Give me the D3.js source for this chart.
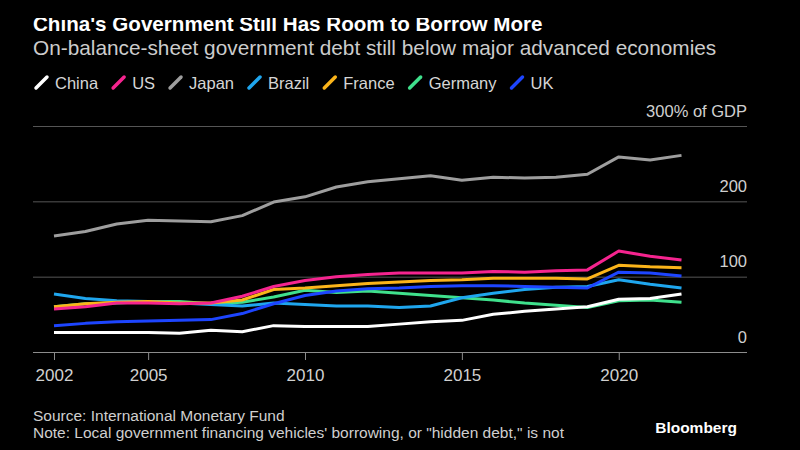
<!DOCTYPE html>
<html>
<head>
<meta charset="utf-8">
<script src="https://cdn.jsdelivr.net/npm/d3@7"></script>
<style>
  html, body { margin: 0; padding: 0; background: #000; }
  svg { display: block; font-family: "Liberation Sans", Arial, Helvetica, sans-serif; }
</style>
</head>
<body>
<svg id="chart" width="800" height="450"></svg>
<script>
// ---- Data ----
const years = [2002, 2003, 2004, 2005, 2006, 2007, 2008, 2009, 2010, 2011, 2012,
               2013, 2014, 2015, 2016, 2017, 2018, 2019, 2020, 2021, 2022];
const seriesNames = ["China", "US", "Japan", "Brazil", "France", "Germany", "UK"];
const seriesColors = ["#ffffff", "#f5248f", "#9e9e9e", "#1fa6ee", "#fbb41a", "#3fe08c", "#1d45ff"];
const chinaDebt   = [26, 26, 26, 26, 25, 29, 27, 35, 34, 34, 34, 37, 40, 42, 50, 54, 57, 60, 70, 71, 77];
const usDebt      = [57, 60, 65, 65, 64, 65, 74, 87, 95, 100, 103, 105, 105, 105, 107, 106, 108, 109, 134, 127, 122];
const japanDebt   = [154, 160, 170, 175, 174, 173, 181, 199, 206, 219, 226, 230, 234, 228, 232, 231, 232, 236, 259, 255, 261];
const brazilDebt  = [77, 71, 68, 67, 65, 63, 61, 65, 63, 61, 61, 59, 61, 72, 78, 83, 86, 87, 96, 90, 85];
const franceDebt  = [60, 64, 66, 67, 65, 65, 69, 83, 85, 88, 91, 93, 95, 96, 98, 98, 98, 97, 115, 113, 112];
const germanyDebt = [60, 64, 65, 67, 67, 64, 66, 73, 82, 79, 81, 78, 75, 72, 69, 65, 62, 59, 68, 69, 66];
const ukDebt      = [35, 38, 40, 41, 42, 43, 51, 64, 75, 81, 84, 85, 87, 88, 88, 87, 86, 85, 106, 105, 101];
const seriesValues = [chinaDebt, usDebt, japanDebt, brazilDebt, franceDebt, germanyDebt, ukDebt];
const yTicks = [0, 100, 200, 300];
const xTicks = [2002, 2005, 2010, 2015, 2020];
const titleText = "China's Government Still Has Room to Borrow More";
const subtitleText = "On-balance-sheet government debt still below major advanced economies";
const sourceText = "Source: International Monetary Fund";
const noteText = "Note: Local government financing vehicles' borrowing, or \"hidden debt,\" is not";

// ---- Layout ----
const svg = d3.select("#chart");
const plotLeft = 33, plotRight = 747;
const x = d3.scaleLinear().domain([2002, 2022]).range([54, 681.5]);
const y = d3.scaleLinear().domain([0, 300]).range([352, 126]);

svg.append("rect").attr("width", 800).attr("height", 450).attr("fill", "#000");

// Title (clipped at top like the reference)
svg.append("clipPath").attr("id", "titleClip")
  .append("rect").attr("x", 0).attr("y", 18).attr("width", 800).attr("height", 20);
svg.append("text")
  .attr("clip-path", "url(#titleClip)")
  .attr("x", 33).attr("y", 30.5)
  .attr("fill", "#ffffff").attr("font-size", 20.6).attr("font-weight", "bold")
  .text(titleText);

svg.append("text")
  .attr("x", 33).attr("y", 54.5)
  .attr("fill", "#cccccc").attr("font-size", 20.8)
  .text(subtitleText);

// Legend
const legend = svg.append("g");
let lx = 34;
seriesNames.forEach((name, i) => {
  const g = legend.append("g").attr("transform", `translate(${lx},0)`);
  g.append("line")
    .attr("x1", 2).attr("y1", 88).attr("x2", 13).attr("y2", 77)
    .attr("stroke", seriesColors[i]).attr("stroke-width", 3.5).attr("stroke-linecap", "round");
  const t = g.append("text")
    .attr("x", 21).attr("y", 89)
    .attr("fill", "#d6d6d6").attr("font-size", 16.5)
    .text(name);
  lx += 21 + t.node().getComputedTextLength() + 13;
});

// Y axis gridlines + labels
const yAxis = d3.axisLeft(y).tickValues(yTicks).tickSize(plotRight - plotLeft)
  .tickFormat(d => d === 300 ? "300% of GDP" : d3.format("d")(d));
const yg = svg.append("g").attr("transform", `translate(${plotRight},0)`).call(yAxis);
yg.select(".domain").remove();
yg.selectAll(".tick line")
  .attr("stroke", d => d === 0 ? "#8c8c8c" : "#555555")
  .attr("stroke-width", 1);
yg.selectAll(".tick text")
  .attr("x", 0).attr("dy", -10)
  .attr("text-anchor", "end")
  .attr("fill", "#d0d0d0").attr("font-size", 16.5)
  .attr("font-family", "Liberation Sans, Arial, sans-serif");

// X axis
const xAxis = d3.axisBottom(x).tickValues(xTicks).tickSize(8).tickFormat(d3.format("d"));
const xg = svg.append("g").attr("transform", `translate(0,${y(0)})`).call(xAxis);
xg.select(".domain").remove();
xg.selectAll(".tick line").attr("stroke", "#8c8c8c");
xg.selectAll(".tick text")
  .attr("y", 17).attr("fill", "#d0d0d0").attr("font-size", 17)
  .attr("font-family", "Liberation Sans, Arial, sans-serif");

// Lines (Japan drawn first, then others in order)
const line = d3.line().x((d, i) => x(years[i])).y(d => y(d));
const drawOrder = [2, 5, 3, 6, 4, 1, 0];
drawOrder.forEach(i => {
  svg.append("path")
    .datum(seriesValues[i])
    .attr("d", line)
    .attr("fill", "none")
    .attr("stroke", seriesColors[i])
    .attr("stroke-width", 3)
    .attr("stroke-linejoin", "round");
});

// Footer
svg.append("text").attr("x", 33).attr("y", 421)
  .attr("fill", "#cfcfcf").attr("font-size", 15.5).text(sourceText);
svg.append("text").attr("x", 33).attr("y", 438)
  .attr("fill", "#cfcfcf").attr("font-size", 15.5).text(noteText);
svg.append("text").attr("x", 737).attr("y", 433)
  .attr("text-anchor", "end")
  .attr("fill", "#ffffff").attr("font-size", 15.5).attr("font-weight", "bold")
  .text("Bloomberg");
</script>
</body>
</html>
